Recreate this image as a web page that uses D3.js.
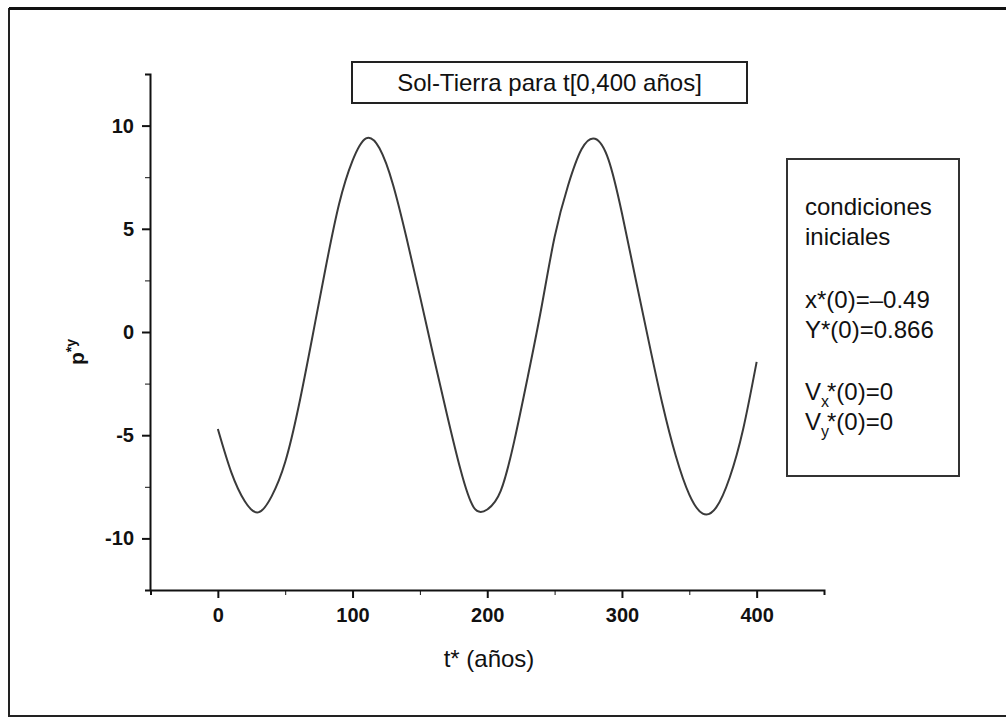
<!DOCTYPE html>
<html>
<head>
<meta charset="utf-8">
<script src="https://cdn.jsdelivr.net/npm/d3@7"></script>
<style>
  html, body { margin: 0; padding: 0; background: #fff; }
  svg { display: block; font-family: Arial, "Liberation Sans", sans-serif; }
  .tick text { font-weight: bold; font-size: 20px; fill: #111; }
  .axis path, .axis line { stroke: #111; }
</style>
</head>
<body>
<svg id="chart" width="1006" height="726"></svg>
<script>
// time (years) and p*y, every 10 years
const tYears = [0, 10, 20, 30, 40, 50, 60, 70, 80, 90, 100, 110, 120, 130, 140, 150, 160, 170, 180, 190,
                200, 210, 220, 230, 240, 250, 260, 270, 280, 290, 300, 310, 320, 330, 340, 350, 360, 370,
                380, 390, 400]
const pY = [-4.7, -6.8, -8.2, -8.74, -7.95, -6.3, -3.6, -0.3, 3.1, 6.2, 8.3, 9.38, 8.9, 7.15, 4.58, 1.75,
            -1.15, -3.97, -6.63, -8.5, -8.6, -7.7, -5.3, -2.2, 1.1, 4.6, 7.1, 8.85, 9.36, 8.35, 5.75,
            2.62, -0.49, -3.48, -6.01, -7.88, -8.8, -8.5, -7.05, -4.7, -1.45]

const xMajor = [0, 100, 200, 300, 400]
const xMinor = [-50, 50, 150, 250, 350, 450]
const yMajor = [-10, -5, 0, 5, 10]
const yMinor = [-12.5, -7.5, -2.5, 2.5, 7.5, 12.5]

const titleText = 'Sol-Tierra para t[0,400 años]'
const xLabel = 't* (años)'

const svg = d3.select('#chart')

// outer frame (right side open as in the scan)
svg.append('path')
  .attr('d', 'M1006,9 H9 V716 H1006')
  .attr('fill', 'none')
  .attr('stroke', '#222')
  .attr('stroke-width', 2)
svg.append('line')
  .attr('x1', 9).attr('x2', 1006).attr('y1', 8.5).attr('y2', 8.5)
  .attr('stroke', '#111').attr('stroke-width', 3)

const x = d3.scaleLinear().domain([-50, 450]).range([150.5, 824])
const y = d3.scaleLinear().domain([-12.5, 12.5]).range([590, 74])

// minor ticks first, then major with labels
svg.append('g')
  .attr('class', 'axis')
  .attr('transform', 'translate(0,590)')
  .call(d3.axisBottom(x).tickValues(xMinor).tickSize(5).tickFormat(''))
  .call(g => g.select('.domain').attr('stroke-width', 2))

svg.append('g')
  .attr('class', 'axis')
  .attr('transform', 'translate(0,590)')
  .call(d3.axisBottom(x).tickValues(xMajor).tickSize(8).tickPadding(10).tickSizeOuter(0))
  .call(g => g.select('.domain').remove())
  .call(g => g.selectAll('.tick line').attr('stroke-width', 2))

svg.append('g')
  .attr('class', 'axis')
  .attr('transform', 'translate(150,0)')
  .call(d3.axisLeft(y).tickValues(yMinor).tickSize(5).tickFormat(''))
  .call(g => g.select('.domain').attr('stroke-width', 2))

svg.append('g')
  .attr('class', 'axis')
  .attr('transform', 'translate(150,0)')
  .call(d3.axisLeft(y).tickValues(yMajor).tickSize(8).tickPadding(8).tickSizeOuter(0)
    .tickFormat(d => String(d)))
  .call(g => g.select('.domain').remove())
  .call(g => g.selectAll('.tick line').attr('stroke-width', 2))

// curve
const line = d3.line()
  .x((d, i) => x(tYears[i]))
  .y(d => y(d))
  .curve(d3.curveNatural)

svg.append('path')
  .datum(pY)
  .attr('d', line)
  .attr('fill', 'none')
  .attr('stroke', '#3a3a3a')
  .attr('stroke-width', 2)

// axis titles
svg.append('text')
  .attr('x', 489).attr('y', 667)
  .attr('text-anchor', 'middle')
  .attr('font-size', 24)
  .attr('fill', '#111')
  .text(xLabel)

const yl = svg.append('text')
  .attr('transform', 'translate(84,365) rotate(-90)')
  .attr('font-size', 21)
  .attr('font-weight', 'bold')
  .attr('fill', '#111')
yl.append('tspan').text('p')
yl.append('tspan').attr('dy', -8).attr('font-size', 14).text('*y')

// title box
svg.append('rect')
  .attr('x', 352).attr('y', 62).attr('width', 395).attr('height', 41)
  .attr('fill', '#fff').attr('stroke', '#222').attr('stroke-width', 2)
svg.append('text')
  .attr('x', 549.5).attr('y', 91)
  .attr('text-anchor', 'middle')
  .attr('font-size', 24)
  .attr('fill', '#111')
  .text(titleText)

// initial conditions box
svg.append('rect')
  .attr('x', 787).attr('y', 159).attr('width', 172).attr('height', 317)
  .attr('fill', '#fff').attr('stroke', '#333').attr('stroke-width', 2)

const legendLines = ['condiciones', 'iniciales', 'x*(0)=–0.49', 'Y*(0)=0.866']
const legendY = [215, 245, 308, 338]
legendLines.forEach((s, i) => {
  svg.append('text')
    .attr('x', 805).attr('y', legendY[i])
    .attr('font-size', 24)
    .attr('fill', '#111')
    .text(s)
})

const subs = ['x', 'y']
const subY = [400, 430]
subs.forEach((s, i) => {
  const t = svg.append('text')
    .attr('x', 805).attr('y', subY[i])
    .attr('font-size', 24)
    .attr('fill', '#111')
  t.append('tspan').text('V')
  t.append('tspan').attr('dy', 7).attr('font-size', 16).text(s)
  t.append('tspan').attr('dy', -7).attr('dx', -2).text('*(0)=0')
})
</script>
</body>
</html>
